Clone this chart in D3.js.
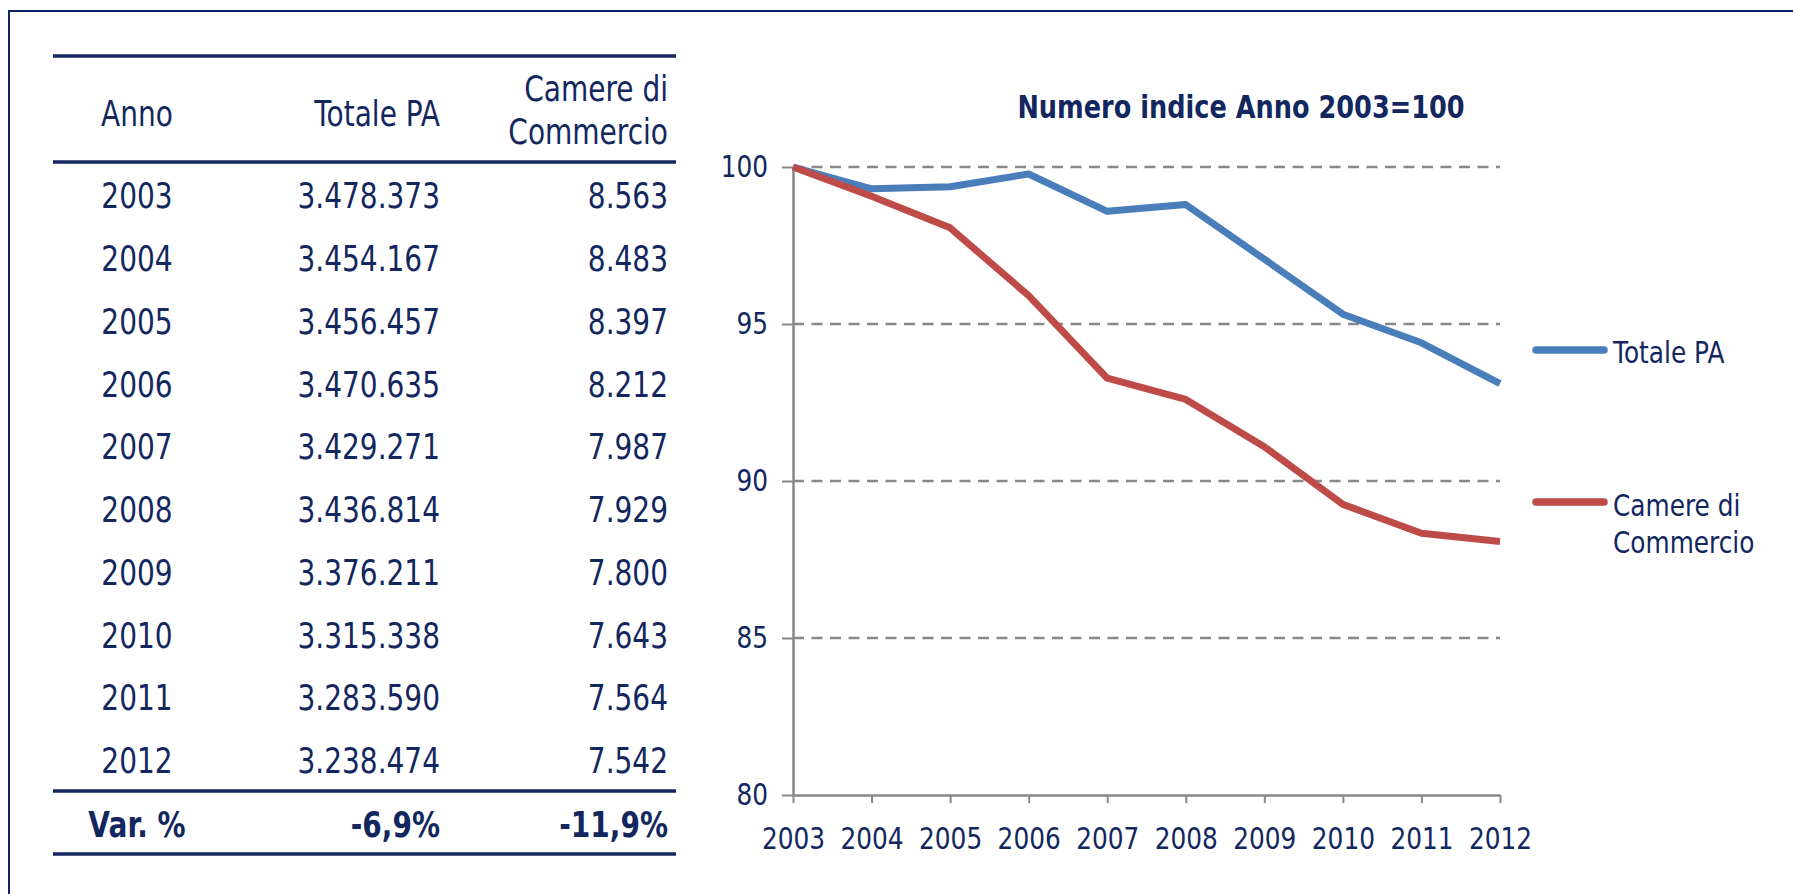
<!DOCTYPE html>
<meta charset="utf-8">
<script src="https://cdn.jsdelivr.net/npm/d3@7"></script>
<style>
body { margin: 0; background: #fff; }
text { font-family: "DejaVu Sans", sans-serif; fill: #13275f; }
</style>
<body>
<script>

// table data
var years = ["2003", "2004", "2005", "2006", "2007", "2008", "2009", "2010", "2011", "2012"];
var totalePA = [3478373, 3454167, 3456457, 3470635, 3429271, 3436814, 3376211, 3315338, 3283590, 3238474];
var camere = [8563, 8483, 8397, 8212, 7987, 7929, 7800, 7643, 7564, 7542];
var seriesNames = ["Totale PA", "Camere di Commercio"];
var yTicks = [80, 85, 90, 95, 100];

var W = 1793, H = 894;
var navy = "#13275f", gray = "#888888";
var colors = ["#4a7ebb", "#be4b48"];
var SX = 0.8; // the original font is narrower than DejaVu

var it = d3.formatLocale({decimal: ",", thousands: ".", grouping: [3], minus: "-"});
var fmtInt = it.format(",d");
var fmtPct = it.format(".1f");

var svg = d3.select("body").append("svg")
    .attr("width", W)
    .attr("height", H);

// frame
svg.append("path")
    .attr("d", "M9," + H + "V11H" + W)
    .attr("fill", "none")
    .attr("stroke", "#0e2460")
    .attr("stroke-width", 2);

// helper for narrowed text, y is the visual middle of the caps
function label(g, x, y, s, size, anchor, bold) {
  return g.append("text")
      .attr("transform", "translate(" + x + "," + (y + size * 0.365) + ") scale(" + SX + ",1)")
      .attr("font-size", size + "px")
      .attr("font-weight", bold ? "bold" : null)
      .attr("text-anchor", anchor)
      .text(s);
}

// ---------- table ----------
var tab = svg.append("g");
var colAnno = 137, colTot = 440, colCam = 668;
var fs = 35;

[56, 162, 791, 854].forEach(function(yy) {
  tab.append("line")
      .attr("x1", 53).attr("x2", 676)
      .attr("y1", yy).attr("y2", yy)
      .attr("stroke", navy)
      .attr("stroke-width", 3.5);
});

label(tab, colAnno, 113, "Anno", fs, "middle");
label(tab, colTot, 113, "Totale PA", fs, "end");
label(tab, colCam, 88, "Camere di", fs, "end");
label(tab, colCam, 131, "Commercio", fs, "end");

var rowY = d3.scalePoint().domain(years).range([195.5, 760.4]);
years.forEach(function(yr, i) {
  label(tab, colAnno, rowY(yr), yr, fs, "middle");
  label(tab, colTot, rowY(yr), fmtInt(totalePA[i]), fs, "end");
  label(tab, colCam, rowY(yr), fmtInt(camere[i]), fs, "end");
});

var n = years.length - 1;
label(tab, colAnno, 824, "Var. %", fs, "middle", true);
label(tab, colTot, 824, fmtPct((totalePA[n] / totalePA[0] - 1) * 100) + "%", fs, "end", true);
label(tab, colCam, 824, fmtPct((camere[n] / camere[0] - 1) * 100) + "%", fs, "end", true);

// ---------- chart ----------
var x = d3.scalePoint().domain(years).range([793, 1500]);
var y = d3.scaleLinear().domain([80, 100]).range([795, 167]);

// index numbers, 2003 = 100
var series = [totalePA, camere].map(function(arr) {
  return arr.map(function(v, i) { return {year: years[i], value: v / arr[0] * 100}; });
});

label(svg, 1241, 106, "Numero indice Anno 2003=100", 32, "middle", true);

// gridlines
svg.append("g")
  .selectAll("line")
  .data(yTicks.slice(1))
  .enter().append("line")
    .attr("x1", x.range()[0]).attr("x2", x.range()[1])
    .attr("y1", function(d) { return y(d); })
    .attr("y2", function(d) { return y(d); })
    .attr("stroke", gray)
    .attr("stroke-width", 2.5)
    .attr("stroke-dasharray", "11,7.5");

var yAxis = svg.append("g")
    .attr("transform", "translate(" + x.range()[0] + ",0)")
    .call(d3.axisLeft(y).tickValues(yTicks).tickSizeInner(11).tickSizeOuter(0).tickPadding(14));

var xAxis = svg.append("g")
    .attr("transform", "translate(0," + y(80) + ")")
    .call(d3.axisBottom(x).tickSizeInner(8).tickSizeOuter(0).tickPadding(24));

[yAxis, xAxis].forEach(function(ax) {
  ax.select(".domain").attr("stroke", gray).attr("stroke-width", 2.5);
  ax.selectAll(".tick line").attr("stroke", gray).attr("stroke-width", 2);
  ax.selectAll("text")
      .attr("font-family", "DejaVu Sans, sans-serif")
      .attr("font-size", "31px")
      .attr("fill", navy)
      .attr("transform", "scale(" + SX + ",1)")
      .attr("x", function() { return (+this.getAttribute("x") || 0) / SX; });
});

var line = d3.line()
    .x(function(d) { return x(d.year); })
    .y(function(d) { return y(d.value); });

series.forEach(function(s, i) {
  svg.append("path")
      .datum(s)
      .attr("d", line)
      .attr("fill", "none")
      .attr("stroke", colors[i])
      .attr("stroke-width", 7)
      .attr("stroke-linejoin", "round");
});

// legend
var leg = svg.append("g");
var legY = [350, 502];
seriesNames.forEach(function(name, i) {
  leg.append("line")
      .attr("x1", 1536).attr("x2", 1604)
      .attr("y1", legY[i]).attr("y2", legY[i])
      .attr("stroke", colors[i])
      .attr("stroke-width", 7.5)
      .attr("stroke-linecap", "round");
});
label(leg, 1613, 352, "Totale PA", 31, "start");
label(leg, 1613, 505, "Camere di", 31, "start");
label(leg, 1613, 542, "Commercio", 31, "start");

</script>
</body>
</html>
